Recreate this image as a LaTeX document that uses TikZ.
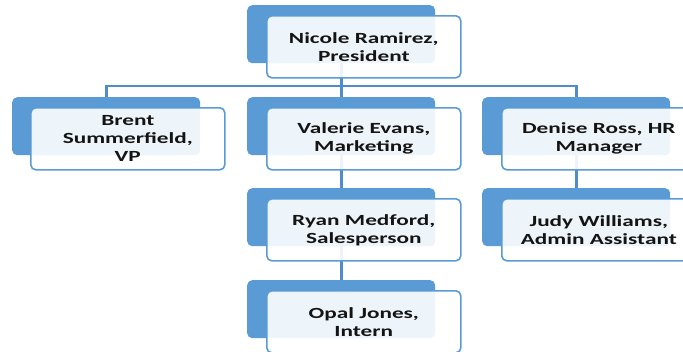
\documentclass[tikz,border=0pt]{standalone}
\usepackage{fontspec}
\newfontfamily\boxfont[FakeStretch=1.5]{Carlito}
\definecolor{sblue}{RGB}{91,155,213}
\definecolor{lblue}{RGB}{79,140,203}
\definecolor{txt}{RGB}{20,20,20}
\tikzset{
  bluebox/.style={draw=none, fill=sblue, rounded corners=5pt, minimum width=188pt, minimum height=58pt, anchor=north west, inner sep=0pt},
  whitebox/.style={draw=sblue, line width=1.6pt, fill=white, fill opacity=0.9, text opacity=1, rounded corners=5pt, minimum width=194pt, minimum height=62pt, anchor=north west, inner sep=2pt, align=center, text=txt, font=\boxfont\bfseries\fontsize{15.5}{18}\selectfont},
  conn/.style={draw=lblue, line width=2.6pt}
}
\begin{document}
\begin{tikzpicture}[x=1pt,y=-1pt]
\useasboundingbox (0,0) rectangle (683,351);
\clip (0,0) rectangle (683,351);
\fill[white] (0,0) rectangle (683,351);
\coordinate (bus) at (0,86);
% blue back boxes
\node[bluebox] (nicoleB) at (247,5) {};
\node[bluebox] (brentB) at (12,97) {};
\node[bluebox] (valerieB) at (247,97) {};
\node[bluebox] (deniseB) at (482,97) {};
\node[bluebox] (ryanB) at (247,188) {};
\node[bluebox] (judyB) at (482,188) {};
\node[bluebox] (opalB) at (247,280) {};
% connectors (behind front boxes)
\draw[conn] (nicoleB.south) -- (nicoleB.south |- bus);
\draw[conn] (brentB.north) -- (brentB.north |- bus) -- (deniseB.north |- bus) -- (deniseB.north);
\draw[conn] (valerieB.north) -- (valerieB.north |- bus);
\draw[conn] (valerieB.south) -- (ryanB.north);
\draw[conn] (ryanB.south) -- (opalB.north);
\draw[conn] (deniseB.south) -- (judyB.north);
% front boxes
\node[whitebox] (nicole) at (266,15) {Nicole Ramirez,\\President};
\node[whitebox] (brent) at (30,107) {Brent\\Summerfield,\\VP};
\node[whitebox] (valerie) at (266,107) {Valerie Evans,\\Marketing};
\node[whitebox] (denise) at (501,107) {Denise Ross, HR\\Manager};
\node[whitebox] (ryan) at (266,198) {Ryan Medford,\\Salesperson};
\node[whitebox] (judy) at (501,198) {Judy Williams,\\Admin Assistant};
\node[whitebox] (opal) at (266,290) {Opal Jones,\\Intern};
\end{tikzpicture}
\end{document}
